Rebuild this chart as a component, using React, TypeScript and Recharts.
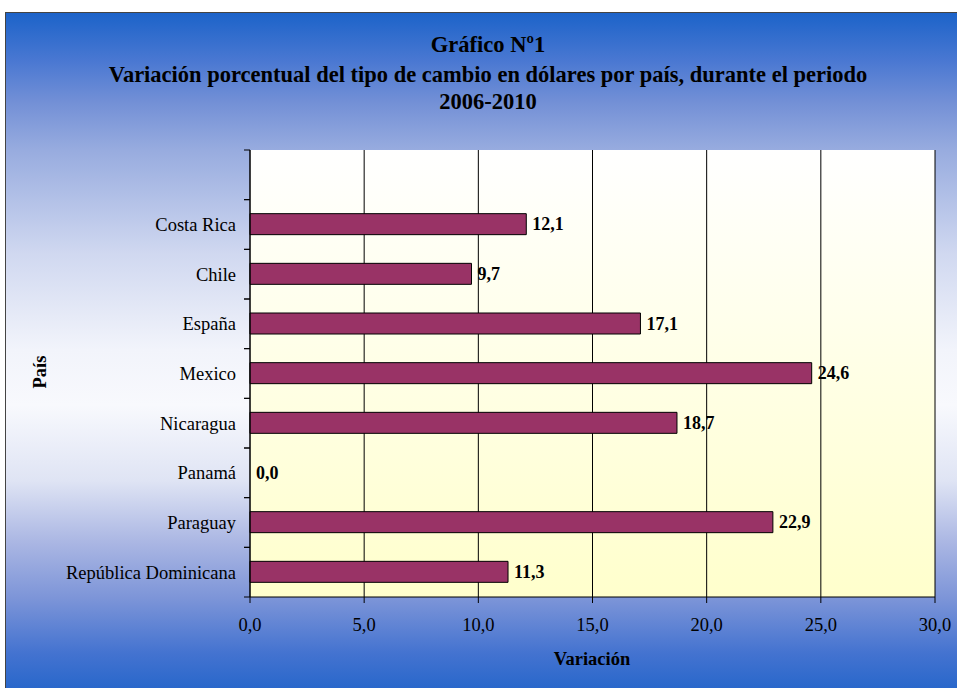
import React from 'react';
import {
  Bar,
  BarChart,
  CartesianGrid,
  LabelList,
  XAxis,
  YAxis,
} from 'recharts';

// categorías de arriba hacia abajo (la primera fila queda vacía, como en el original)
const paises = [
  '',
  'Costa Rica',
  'Chile',
  'España',
  'Mexico',
  'Nicaragua',
  'Panamá',
  'Paraguay',
  'República Dominicana',
];
const variaciones = [null, 12.1, 9.7, 17.1, 24.6, 18.7, 0.0, 22.9, 11.3];
const ticksVariacion = [0, 5, 10, 15, 20, 25, 30];

const titulo = [
  'Gráfico Nº1',
  'Variación porcentual del tipo de cambio en dólares por país, durante el periodo',
  '2006-2010',
];

const data = paises.map((pais, i) => ({ pais, variacion: variaciones[i] }));

const FONT = '"Liberation Serif", "Times New Roman", serif';
const CHART_W = 973;
const CHART_H = 688;
const MARGIN = { top: 137, right: 44, bottom: 64, left: 44 };
const X_AXIS_H = 40;
const Y_AXIS_W = 200;
const TICK_SIZE = 6;
const TICK_MARGIN = 8;
const LABEL_GAP = 6;
const PLOT_H = CHART_H - MARGIN.top - MARGIN.bottom - X_AXIS_H;
const BAND_HALF = PLOT_H / paises.length / 2;

const fmt = (v: any) =>
  v === null || v === undefined ? '' : Number(v).toFixed(1).replace('.', ',');

const valueText = (x: number, y: number, v: any) => (
  <text
    x={x}
    y={y}
    dy="0.35em"
    textAnchor="start"
    fontFamily={FONT}
    fontSize={18}
    fontWeight="bold"
    fill="#000"
  >
    {fmt(v)}
  </text>
);

const YTick = (props: any) => {
  const { x, y, payload, index } = props;
  const axisX = x + TICK_MARGIN + TICK_SIZE;
  const i = payload?.index ?? index;
  const v = variaciones[i];
  return (
    <g>
      <line x1={axisX - TICK_SIZE} x2={axisX} y1={y - BAND_HALF} y2={y - BAND_HALF} stroke="#000" />
      <line x1={axisX - TICK_SIZE} x2={axisX} y1={y + BAND_HALF} y2={y + BAND_HALF} stroke="#000" />
      <text
        x={x}
        y={y}
        dy="0.35em"
        textAnchor="end"
        fontFamily={FONT}
        fontSize={18.5}
        fill="#000"
      >
        {payload.value}
      </text>
      {/* Recharts no dibuja barras de ancho 0: la etiqueta de Panamá va aquí */}
      {v === 0 && valueText(axisX + LABEL_GAP, y, v)}
    </g>
  );
};

const ValueLabel = (props: any) => {
  const { x, y, width, height, value } = props;
  if (value === null || value === undefined) return null;
  return valueText(
    Number(x) + Number(width || 0) + LABEL_GAP,
    Number(y) + Number(height || 0) / 2,
    value
  );
};

const App = () => {
  return (
    <div
      style={{
        position: 'absolute',
        left: 0,
        top: 0,
        width: 957,
        height: 688,
        overflow: 'hidden',
      }}
    >
      <div
        style={{
          position: 'absolute',
          left: 5,
          top: 12,
          width: CHART_W,
          height: CHART_H,
          border: '1px solid #444',
          background:
            'linear-gradient(to bottom, #1c63c9 0%, #4a78d2 7%, #7390d6 13%, #98acdf 20%, #d0d8f0 35%, #f2f4fb 49%, #f8f9fd 57%, #dfe4f4 68%, #aab6e3 77%, #7d95d8 85%, #4473d0 93%, #1f63c9 100%)',
          fontFamily: FONT,
        }}
      >
        <BarChart
          width={CHART_W}
          height={CHART_H}
          data={data}
          layout="vertical"
          margin={MARGIN}
        >
          <defs>
            <linearGradient id="plotBg" x1="0" y1="0" x2="0" y2="1">
              <stop offset="0%" stopColor="#ffffff" />
              <stop offset="100%" stopColor="#ffffcc" />
            </linearGradient>
          </defs>
          <CartesianGrid
            horizontal={false}
            stroke="#000"
            fill="url(#plotBg)"
            fillOpacity={1}
          />
          <XAxis
            type="number"
            domain={[0, 30]}
            ticks={ticksVariacion}
            tickFormatter={fmt}
            height={X_AXIS_H}
            tickSize={TICK_SIZE}
            tickMargin={15}
            axisLine={{ stroke: '#000' }}
            tickLine={{ stroke: '#000' }}
            tick={{ fill: '#000', fontSize: 18.5, fontFamily: FONT }}
          />
          <XAxis
            xAxisId="top"
            orientation="top"
            type="number"
            domain={[0, 30]}
            height={0}
            tick={false}
            tickLine={false}
            axisLine={{ stroke: '#888', strokeWidth: 2 }}
          />
          <YAxis
            type="category"
            dataKey="pais"
            width={Y_AXIS_W}
            tickSize={TICK_SIZE}
            tickMargin={TICK_MARGIN}
            tickLine={false}
            axisLine={{ stroke: '#000' }}
            interval={0}
            tick={<YTick />}
          />
          <YAxis
            yAxisId="right"
            orientation="right"
            type="category"
            dataKey="pais"
            width={0}
            tick={false}
            tickLine={false}
            axisLine={{ stroke: '#888', strokeWidth: 2 }}
          />
          <Bar
            dataKey="variacion"
            isAnimationActive={false}
            barSize={21}
            fill="#993366"
            stroke="#000"
            strokeWidth={1}
          >
            <LabelList dataKey="variacion" content={<ValueLabel />} />
          </Bar>
        </BarChart>

        {titulo.map((linea, i) => (
          <div
            key={i}
            style={{
              position: 'absolute',
              left: 0,
              width: 964,
              top: [20, 50, 77][i],
              lineHeight: '24px',
              textAlign: 'center',
              fontSize: 22.5,
              fontWeight: 'bold',
              color: '#000',
              whiteSpace: 'nowrap',
            }}
          >
            {linea}
          </div>
        ))}

        <div
          style={{
            position: 'absolute',
            left: 34,
            top: 359,
            transform: 'translate(-50%, -50%) rotate(-90deg)',
            fontSize: 18.5,
            fontWeight: 'bold',
            whiteSpace: 'nowrap',
            color: '#000',
          }}
        >
          País
        </div>
        <div
          style={{
            position: 'absolute',
            left: 586,
            top: 646,
            transform: 'translate(-50%, -50%)',
            fontSize: 18.5,
            fontWeight: 'bold',
            whiteSpace: 'nowrap',
            color: '#000',
          }}
        >
          Variación
        </div>
      </div>
    </div>
  );
};

export default App;
